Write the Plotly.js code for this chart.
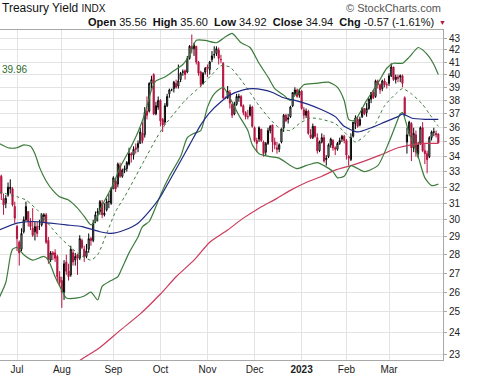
<!DOCTYPE html>
<html>
<head>
<meta charset="utf-8">
<script src="https://cdn.plot.ly/plotly-3.0.1.min.js"></script>
<style>html,body{margin:0;padding:0;background:#fff;}#chart{width:480px;height:376px;}</style>
</head>
<body>
<div id="chart"></div>
<script>
// Trading-day index 0 = 21 Jun 2022 ... 196 = 31 Mar 2023
const openP = [32.4,32.7,31.3,31.0,31.5,31.9,31.9,30.8,29.6,28.7,28.3,29.3,30.0,30.5,29.9,29.5,29.3,29.6,29.6,29.7,
30.2,30.3,28.8,27.7,28.1,28.1,27.9,26.8,26.6,26.0,27.6,27.1,26.9,28.1,27.7,28.0,27.8,28.8,28.3,27.9,
28.3,28.9,28.8,29.9,30.4,30.5,31.0,30.3,30.6,31.1,31.0,31.9,32.4,32.2,33.4,32.7,33.1,33.2,33.5,34.2,
34.1,34.6,34.6,34.9,35.6,35.5,37.2,37.2,39.3,40.0,37.0,37.5,38.0,36.6,36.4,37.6,38.5,38.8,38.9,39.3,
39.1,39.6,40.2,40.3,40.2,41.3,42.3,42.1,42.3,41.0,40.2,39.3,40.2,40.6,40.4,41.2,41.6,41.7,42.0,41.2,
40.9,38.2,38.2,38.6,37.7,37.0,37.7,38.2,38.3,37.6,37.1,36.8,36.9,37.5,36.0,35.1,35.2,35.9,35.0,34.3,
34.9,35.8,36.2,35.0,34.6,34.5,35.0,36.0,36.9,36.6,36.8,37.6,38.5,38.8,38.4,38.7,37.3,36.9,37.2,35.5,
35.3,36.1,35.3,34.4,35.0,35.3,33.8,34.0,34.8,35.1,34.6,34.5,34.9,35.2,35.4,35.1,34.0,33.8,35.4,36.3,
36.6,36.2,36.8,37.4,37.1,37.4,38.1,38.6,38.3,39.5,39.2,38.9,39.5,39.2,39.3,39.9,40.6,39.6,39.8,39.8,
39.9,38.2,35.0,35.6,36.3,34.6,35.5,34.2,34.9,36.0,34.4,34.2,34.0,35.3,35.7,35.6,35.56];
const highP = [33.2,32.8,31.6,31.5,32.3,32.5,32.0,31.1,29.7,28.8,29.5,30.2,31.1,30.5,30.1,30.7,29.9,29.9,30.0,30.4,
30.4,30.4,29.0,28.2,28.2,28.3,28.0,27.1,26.8,27.7,28.0,27.5,28.5,28.3,28.1,28.0,29.1,28.9,28.5,28.6,
29.2,29.0,30.0,30.5,30.7,31.2,31.2,31.0,31.3,31.6,32.0,32.7,32.6,33.6,33.6,33.2,33.4,33.7,34.6,34.3,
34.7,34.9,35.1,36.0,36.4,37.5,38.3,39.4,39.9,40.1,37.9,38.3,38.1,36.7,37.8,38.5,38.9,38.9,39.5,39.6,
40.8,40.2,40.4,40.4,41.5,42.4,43.3,42.6,42.3,41.1,40.3,40.2,40.6,40.8,41.1,41.9,42.3,42.3,42.2,41.6,
41.0,38.3,39.1,38.8,37.8,37.9,38.5,38.5,38.4,37.7,37.2,37.3,37.7,37.6,36.1,35.3,36.1,35.9,35.1,35.0,
36.0,36.2,36.2,35.3,35.0,34.9,36.0,37.0,37.0,37.0,37.6,38.6,39.0,38.9,38.9,38.8,37.5,37.4,37.3,35.9,
36.3,36.1,35.6,35.1,35.6,35.5,34.1,34.9,35.3,35.2,34.7,35.0,35.3,35.5,35.5,35.2,34.1,35.6,36.4,36.9,
36.8,36.8,37.5,37.4,37.8,38.2,38.6,38.8,39.6,39.6,39.3,39.6,39.7,39.4,40.1,40.9,40.6,40.0,40.0,40.0,
40.0,38.3,36.0,36.5,36.4,36.0,35.8,35.0,36.1,36.4,34.9,34.4,35.4,35.8,36.0,35.8,35.60];
const lowP = [32.3,31.2,30.3,30.7,31.4,31.6,30.8,29.8,28.2,27.4,28.2,29.2,29.9,29.6,29.4,29.0,28.8,29.0,29.4,29.6,
29.8,28.6,27.5,27.6,27.7,27.6,26.5,26.3,25.2,25.6,26.9,26.6,26.8,27.4,27.4,26.9,27.7,28.3,27.6,27.8,
28.1,28.5,28.7,29.8,29.9,30.3,30.1,30.2,30.5,30.7,30.9,31.9,31.7,32.0,32.6,32.6,32.9,33.0,33.4,33.6,
33.8,34.2,34.3,34.9,34.9,35.3,36.6,37.1,38.9,36.9,36.9,37.3,36.1,35.7,36.2,37.5,38.2,38.7,38.6,38.9,
38.9,39.4,39.9,39.6,40.1,41.2,41.7,41.5,40.8,39.9,39.0,39.2,40.0,39.8,40.0,41.0,41.3,41.5,40.8,40.9,
38.1,38.1,38.1,37.4,36.7,36.9,37.6,37.9,37.5,36.9,36.6,36.6,36.8,36.0,35.0,34.3,35.0,35.0,34.0,34.1,
34.8,35.6,34.3,34.5,34.2,34.3,34.9,35.7,36.4,36.3,36.7,37.5,38.4,38.2,38.2,37.3,36.6,36.7,35.5,35.2,
35.2,35.3,34.2,34.3,34.9,33.6,33.4,33.9,34.6,34.4,34.1,34.4,34.8,35.0,34.9,33.8,33.4,33.7,35.3,35.9,
36.0,36.1,36.7,36.9,36.8,37.3,37.8,38.1,38.2,38.9,38.5,38.7,39.0,38.9,39.1,39.8,39.5,39.3,39.4,39.4,
39.0,36.8,34.2,35.4,33.7,34.3,34.0,33.9,34.8,34.3,33.5,32.9,33.9,35.1,35.4,35.3,34.92];
const closeP = [32.8,31.6,30.9,31.3,32.0,32.0,30.9,30.1,28.9,28.1,29.2,30.0,30.8,29.9,29.6,29.1,29.6,29.2,29.6,30.3,
30.3,28.7,27.7,28.1,28.0,27.8,26.8,26.5,26.0,27.5,27.1,26.8,28.3,27.6,27.9,27.8,28.9,28.4,27.9,28.2,
28.9,28.8,29.8,30.3,30.5,31.1,30.3,30.4,31.1,31.1,31.9,32.6,31.9,33.5,32.7,33.1,33.2,33.6,34.2,34.1,
34.5,34.5,34.9,35.7,35.1,37.1,36.9,39.3,39.6,37.0,37.6,38.0,36.5,36.2,37.6,38.3,38.8,38.8,39.4,39.0,
39.5,40.1,40.2,40.0,41.3,42.3,42.1,42.4,41.0,40.1,39.2,40.1,40.5,40.5,41.0,41.5,41.6,42.1,41.3,41.2,
38.2,38.2,38.7,37.8,36.9,37.7,38.3,38.3,37.6,37.1,36.8,36.8,37.5,36.1,35.1,34.9,36.0,35.1,34.2,34.9,
35.8,36.1,35.0,34.8,34.5,34.8,35.9,36.9,36.5,36.7,37.5,38.6,38.8,38.3,38.7,37.4,36.9,37.2,35.6,35.3,
36.1,35.4,34.4,35.0,35.3,33.7,33.9,34.8,35.2,34.6,34.5,34.9,35.1,35.4,35.1,34.1,33.9,35.3,36.4,36.7,
36.1,36.6,37.4,37.0,37.4,38.1,38.6,38.2,39.5,39.2,38.8,39.5,39.2,39.2,39.9,40.6,39.6,39.8,39.7,39.9,
39.3,37.0,35.5,36.4,34.6,35.6,34.3,34.8,36.0,34.4,34.2,33.8,35.3,35.7,35.7,35.5,34.94];

// Indicators: [trading-day index, value]
const bbUpperDay = [0,4,8,11,14,16,18,21,24,27,31,35,38,41,43,45,48,51,54,58,62,65,68,70,74,78,82,85,88,92,97,101,104,108,112,116,120,123,127,130,133,136,141,147,151,154,156,158,160,164,169,173,176,180,183,187,189,192,194,196];
const bbUpper = [34.9,34.6,34.6,34.8,34.7,34.2,33.3,32.4,31.8,31.4,31.2,30.7,30.2,29.7,29.9,30.6,31.4,32.2,33.3,34.4,35.7,37.0,38.8,39.5,39.8,40.3,40.8,41.6,42.8,42.8,42.6,43.1,43.4,42.6,42.2,40.9,39.8,38.9,38.4,38.0,38.6,39.2,39.3,39.4,39.0,38.0,36.6,36.5,36.8,38.0,39.3,40.5,40.9,40.9,41.4,42.2,42.0,41.4,40.8,40.0];
const bbLowerDay = [0,3,5,6,8,11,15,20,22,25,28,30,35,38,41,44,46,50,53,55,58,62,64,67,70,72,76,81,84,87,90,93,96,100,103,107,111,113,116,121,125,129,133,137,142,145,149,151,154,157,163,169,174,177,179,180,183,187,190,193,196];
const bbLower = [25.7,26.5,27.9,28.3,28.4,28.0,27.7,27.9,27.7,26.8,26.1,25.7,25.7,25.8,26.0,25.6,26.3,26.6,26.8,27.3,28.1,29.0,29.6,29.9,30.8,31.5,32.7,34.0,35.3,35.6,35.8,37.5,38.5,39.0,38.2,36.9,35.8,34.8,34.2,34.0,33.9,33.5,33.2,33.4,33.6,33.4,33.0,32.6,32.7,33.4,33.0,33.4,35.0,36.2,37.0,37.1,35.6,34.0,32.6,32.1,32.2];
const sma20Day = [0,8,12,17,20,23,27,32,36,41,44,48,52,56,61,65,70,74,78,83,90,95,99,103,107,112,116,121,125,130,134,139,144,150,154,159,163,168,172,177,180,184,189,192,196];
const sma20 = [31.7,31.4,31.2,30.6,30.1,29.6,29.0,28.4,28.0,27.7,28.0,29.2,30.5,31.4,32.7,33.8,35.2,36.2,37.0,38.0,39.1,40.0,40.7,40.6,39.8,38.6,37.6,36.6,36.0,35.8,36.3,36.7,36.6,36.3,35.7,35.0,35.4,36.3,37.6,38.5,38.9,38.5,37.7,37.0,36.1];
const sma50Day = [0,8,15,23,30,37,45,50,56,62,67,72,76,81,85,90,94,99,103,109,113,118,122,127,132,138,144,150,154,160,166,172,178,180,184,190,196];
const sma50 = [29.4,29.8,29.9,29.8,29.7,29.6,29.3,29.2,29.4,29.8,30.5,31.4,32.4,33.7,34.8,36.2,37.1,37.9,38.4,38.8,38.9,38.8,38.6,38.2,38.0,37.7,37.3,36.8,36.1,35.7,36.0,36.4,36.8,37.0,36.7,36.6,36.6];
const sma200Day = [34,36,45,54,63,72,79,87,94,102,109,116,124,130,137,144,150,157,163,170,178,184,190,196];
const sma200 = [22.5,22.7,23.3,24.1,24.9,25.9,26.8,27.7,28.7,29.4,30.1,30.7,31.3,31.8,32.3,32.7,33.1,33.4,33.7,34.1,34.6,34.8,34.9,34.9];

const monthTickDays = [8,28,51,72,93,114,135,155,174];
const monthTickText = ['Jul','Aug','Sep','Oct','Nov','Dec','<b>2023</b>','Feb','Mar'];
const yTicks = [23,24,25,26,27,28,29,30,31,32,33,34,35,36,37,38,39,40,41,42,43];

const days = closeP.map((_, i) => i);
const green = '#3b7b3b';
const FONT = 'Liberation Sans, Arial, sans-serif';

const traces = [
  {x: sma200Day, y: sma200, type: 'scatter', mode: 'lines', line: {color: '#cc3b5c', width: 1.2, shape: 'spline', smoothing: 0.6}, hoverinfo: 'skip'},
  {x: bbUpperDay, y: bbUpper, type: 'scatter', mode: 'lines', line: {color: green, width: 1.2, shape: 'spline', smoothing: 0.6}, hoverinfo: 'skip'},
  {x: bbLowerDay, y: bbLower, type: 'scatter', mode: 'lines', line: {color: green, width: 1.2, shape: 'spline', smoothing: 0.6}, hoverinfo: 'skip'},
  {x: sma20Day, y: sma20, type: 'scatter', mode: 'lines', line: {color: green, width: 1, dash: 'dot', shape: 'spline', smoothing: 0.6}, hoverinfo: 'skip'},
  {x: sma50Day, y: sma50, type: 'scatter', mode: 'lines', line: {color: '#1f2a84', width: 1.2, shape: 'spline', smoothing: 0.6}, hoverinfo: 'skip'},
  {x: days, open: openP, high: highP, low: lowP, close: closeP, type: 'candlestick',
   increasing: {line: {color: '#000000', width: 1}, fillcolor: '#ffffff'},
   decreasing: {line: {color: '#b5123f', width: 1}, fillcolor: '#b5123f'},
   whiskerwidth: 0, hoverinfo: 'skip'}
];

const L = Math.log10;
const pyToPaper = p => (360 - p) / 330;

const layout = {
  width: 480, height: 376,
  margin: {l: 0, r: 37, t: 30, b: 16, pad: 0},
  paper_bgcolor: '#ffffff', plot_bgcolor: '#ffffff',
  showlegend: false,
  font: {family: FONT, size: 10, color: '#222'},
  xaxis: {
    type: 'linear', range: [0.414, 198.09], rangeslider: {visible: false},
    tickmode: 'array', tickvals: monthTickDays, ticktext: monthTickText,
    showgrid: true, gridcolor: '#e3e3e3', gridwidth: 1,
    showline: true, linecolor: '#a8a8a8', linewidth: 1, mirror: true,
    ticks: '', tickfont: {family: FONT, size: 10, color: '#222'}, zeroline: false, fixedrange: true
  },
  yaxis: {
    type: 'log', range: [1.35657, 1.64035], side: 'right',
    tickmode: 'array', tickvals: yTicks, ticktext: yTicks.map(String),
    showgrid: true, gridcolor: '#e3e3e3', gridwidth: 1,
    showline: true, linecolor: '#a8a8a8', linewidth: 1, mirror: true,
    ticks: 'outside', ticklen: 3, tickcolor: '#a8a8a8',
    tickfont: {family: FONT, size: 10, color: '#222'}, zeroline: false, fixedrange: true
  },
  annotations: [
    {xref: 'paper', yref: 'paper', x: 0, y: pyToPaper(8), xanchor: 'left', yanchor: 'middle', showarrow: false,
     text: 'Treasury Yield <span style="font-size:10px">INDX</span>', font: {family: FONT, size: 12, color: '#111'}},
    {xref: 'paper', yref: 'paper', x: 1, y: pyToPaper(8), xanchor: 'right', yanchor: 'middle', showarrow: false,
     text: '© StockCharts.com', font: {family: FONT, size: 11, color: '#555'}},
    {xref: 'paper', yref: 'paper', x: 436 / 443, y: pyToPaper(22), xanchor: 'right', yanchor: 'middle', showarrow: false,
     text: '<b>Open</b> 35.56  <b>High</b> 35.60  <b>Low</b> 34.92  <b>Close</b> 34.94  <b>Chg</b> -0.57 (-1.61%)',
     font: {family: FONT, size: 11, color: '#111'}},
    {xref: 'paper', yref: 'paper', x: 437 / 443, y: pyToPaper(22), xanchor: 'left', yanchor: 'middle', showarrow: false,
     text: '▼', font: {family: FONT, size: 7, color: '#b5123f'}},
    {xref: 'paper', yref: 'paper', x: 0, y: pyToPaper(69), xanchor: 'left', yanchor: 'middle', showarrow: false,
     text: '39.96', font: {family: FONT, size: 10, color: '#2e6b2e'}}
  ]
};

Plotly.newPlot('chart', traces, layout, {staticPlot: true, displayModeBar: false});
</script>
</body>
</html>
